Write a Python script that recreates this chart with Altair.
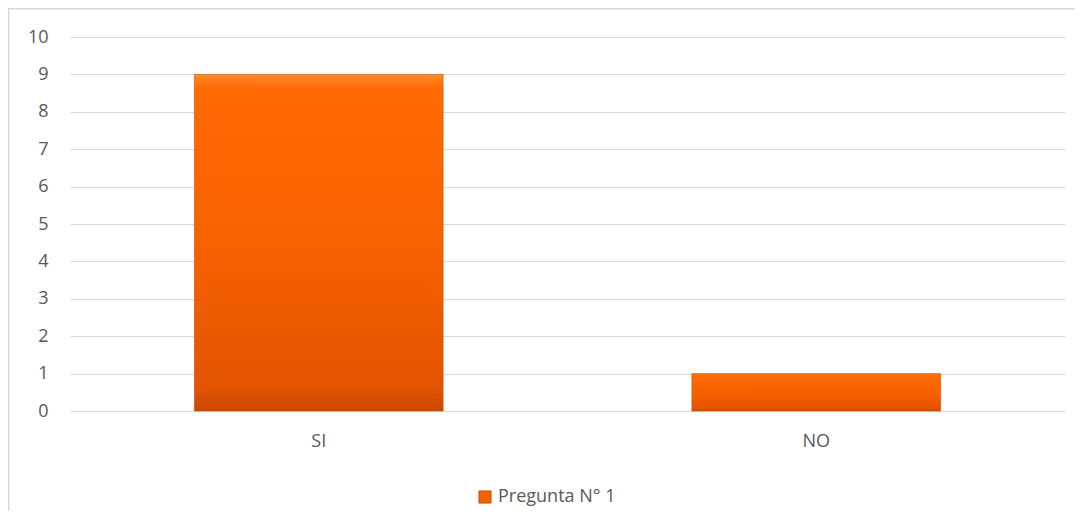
import altair as alt
import pandas as pd

categories = ["SI", "NO"]
values = [9, 1]
series_name = "Pregunta N° 1"
y_ticks = list(range(0, 11))

df = pd.DataFrame({"cat": categories, "val": values, "serie": [series_name] * len(categories)})

FONT = "Open Sans"
GRAY = "#595959"

grad = alt.Gradient(
    gradient="linear",
    stops=[
        alt.GradientStop(color="#ff8a2a", offset=0),
        alt.GradientStop(color="#ff6a05", offset=0.04),
        alt.GradientStop(color="#f76200", offset=0.5),
        alt.GradientStop(color="#e35400", offset=0.93),
        alt.GradientStop(color="#c84800", offset=1),
    ],
    x1=0, x2=0, y1=0, y2=1,
)

border = alt.Chart(df).mark_rect(fill=None, stroke="#d9d9d9", strokeWidth=1.5).encode(
    x=alt.value(-61.5), x2=alt.value(1040), y=alt.value(-28.5), y2=alt.value(500)
)

bars = alt.Chart(df).mark_bar(fill=grad, stroke="#c85000", strokeWidth=0.6).encode(
    x=alt.X(
        "cat:N",
        sort=categories,
        scale=alt.Scale(paddingInner=0.5, paddingOuter=0.25),
        axis=alt.Axis(
            title=None, labelAngle=0, ticks=False, domain=True, domainColor="#d9d9d9",
            grid=False, labelPadding=21, labelFont=FONT, labelFontSize=18, labelColor=GRAY,
        ),
    ),
    y=alt.Y(
        "val:Q",
        scale=alt.Scale(domain=[0, 10], nice=False),
        axis=alt.Axis(
            title=None, values=y_ticks, ticks=False, domain=False, grid=True,
            gridColor="#d9d9d9", gridWidth=1, labelPadding=22,
            labelFont=FONT, labelFontSize=18, labelColor=GRAY,
        ),
    ),
    color=alt.Color(
        "serie:N",
        scale=alt.Scale(range=["#f26200"]),
        legend=alt.Legend(
            title=None, orient="none", legendX=406, legendY=451,
            symbolType="square", symbolSize=150, symbolStrokeColor="#c04a00",
            symbolStrokeWidth=0.8,
            labelFont=FONT, labelFontSize=18, labelColor=GRAY, labelOffset=4,
        ),
    ),
)

chart = alt.layer(border, bars).properties(
    width=995, height=374,
    background="white",
    autosize=alt.AutoSizeParams(type="none"),
    padding={"left": 62, "top": 29, "right": 10, "bottom": 100},
).configure_view(stroke="transparent", strokeWidth=0)

chart.save("out.html", embed_options={"renderer": "svg", "actions": False})
